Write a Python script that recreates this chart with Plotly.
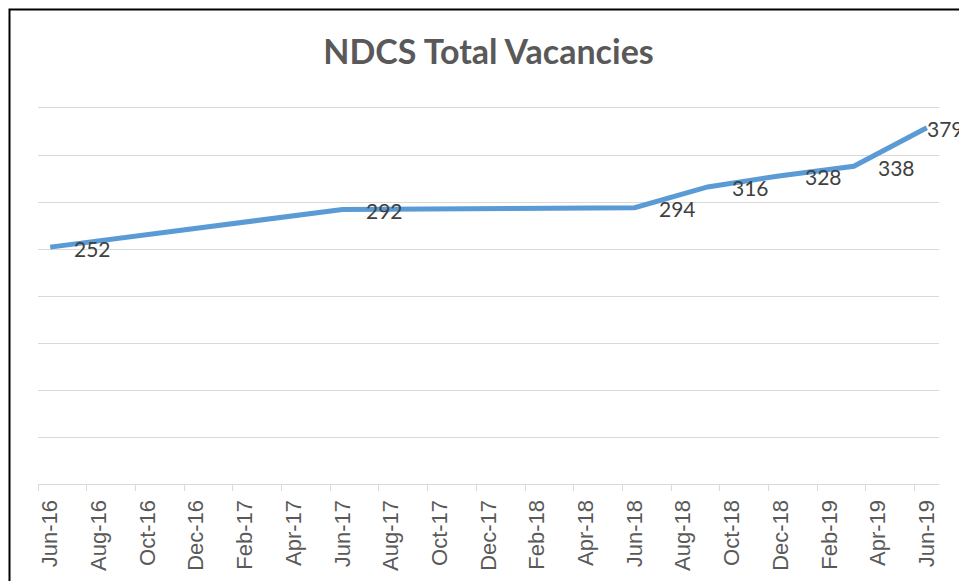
import pandas as pd
import plotly.graph_objects as go

# ---- data ----
months = ["Jun-16", "Jun-17", "Jun-18", "Sep-18", "Dec-18", "Mar-19", "Jun-19"]
vacancies = [252, 292, 294, 316, 328, 338, 379]
tick_labels = ["Jun-16", "Aug-16", "Oct-16", "Dec-16", "Feb-17", "Apr-17",
               "Jun-17", "Aug-17", "Oct-17", "Dec-17", "Feb-18", "Apr-18",
               "Jun-18", "Aug-18", "Oct-18", "Dec-18", "Feb-19", "Apr-19",
               "Jun-19"]
title_text = "NDCS Total Vacancies"


def month_index(labels, base):
    d = pd.to_datetime(labels, format="%b-%y")
    b = pd.to_datetime(base, format="%b-%y")
    return [(x.year - b.year) * 12 + (x.month - b.month) for x in d]


base = tick_labels[0]
x_pts = month_index(months, base)
x_ticks = month_index(tick_labels, base)
x_bounds = [v - 0.5 for v in x_ticks]
x_range = [x_ticks[0] - 0.5, x_ticks[-1] + 0.5]

W, H = 959, 581
ML, MR, MT, MB = 38, 20, 108, 97
pw = W - ML - MR
ph = H - MT - MB

LABEL_SIZE = 21
LABEL_OFFSET = 22
chart_right = W + 1  # chart area edge, just past the cropped picture

fig = go.Figure()
fig.add_trace(go.Scatter(
    x=x_pts, y=vacancies, mode="lines",
    line=dict(color="#5B9BD5", width=5),
    hoverinfo="skip", showlegend=False,
))

for xv, yv in zip(x_pts, vacancies):
    txt = str(yv)
    px = ML + (xv - x_range[0]) / (x_range[1] - x_range[0]) * pw
    est_w = 0.55 * LABEL_SIZE * len(txt)
    shift = LABEL_OFFSET
    if px + shift + est_w > chart_right:
        shift = chart_right - est_w - px
    fig.add_annotation(
        x=xv, y=yv, text=txt, showarrow=False,
        xanchor="left", yanchor="middle", xshift=shift, yshift=-1,
        font=dict(family="Lato, Carlito, sans-serif", size=LABEL_SIZE,
                  color="#404040"),
    )

fig.add_shape(
    type="rect", xref="paper", yref="paper",
    x0=(9.5 - ML) / pw, x1=(W + 20 - ML) / pw,
    y0=(H - 620 - MB) / ph, y1=(H - 9.5 - MB) / ph,
    line=dict(color="#000000", width=2), fillcolor="rgba(0,0,0,0)",
    layer="above",
)

fig.update_layout(
    width=W, height=H,
    margin=dict(l=ML, r=MR, t=MT, b=MB, autoexpand=False),
    paper_bgcolor="white", plot_bgcolor="white",
    title=dict(
        text=title_text, x=0.5, xref="paper", xanchor="center",
        y=1 - 52 / H, yref="container", yanchor="middle",
        font=dict(family="Lato, Carlito, sans-serif", size=34, color="#595959",
                  weight="bold"),
    ),
    xaxis=dict(
        range=x_range, automargin=False,
        tickmode="array", tickvals=x_ticks, ticktext=tick_labels,
        ticks="", tickangle=-90, ticklabelstandoff=6,
        tickfont=dict(family="Liberation Sans, Arial, sans-serif", size=22,
                      color="#595959"),
        showgrid=False, zeroline=False,
        showline=True, mirror=True, linecolor="#D9D9D9", linewidth=1.3,
        minor=dict(tickmode="array", tickvals=x_bounds, ticks="outside",
                   ticklen=6, tickcolor="#D9D9D9", tickwidth=1.3,
                   showgrid=False),
    ),
    yaxis=dict(
        range=[0, 400], automargin=False,
        tickmode="linear", tick0=0, dtick=50,
        showticklabels=False, ticks="",
        showgrid=True, gridcolor="#D9D9D9", gridwidth=1.3,
        zeroline=False, showline=False,
    ),
)

fig.write_html(
    "out.html",
    config={"displayModeBar": False},
    post_script="document.body.style.margin='0';document.body.style.overflow='hidden';",
)
